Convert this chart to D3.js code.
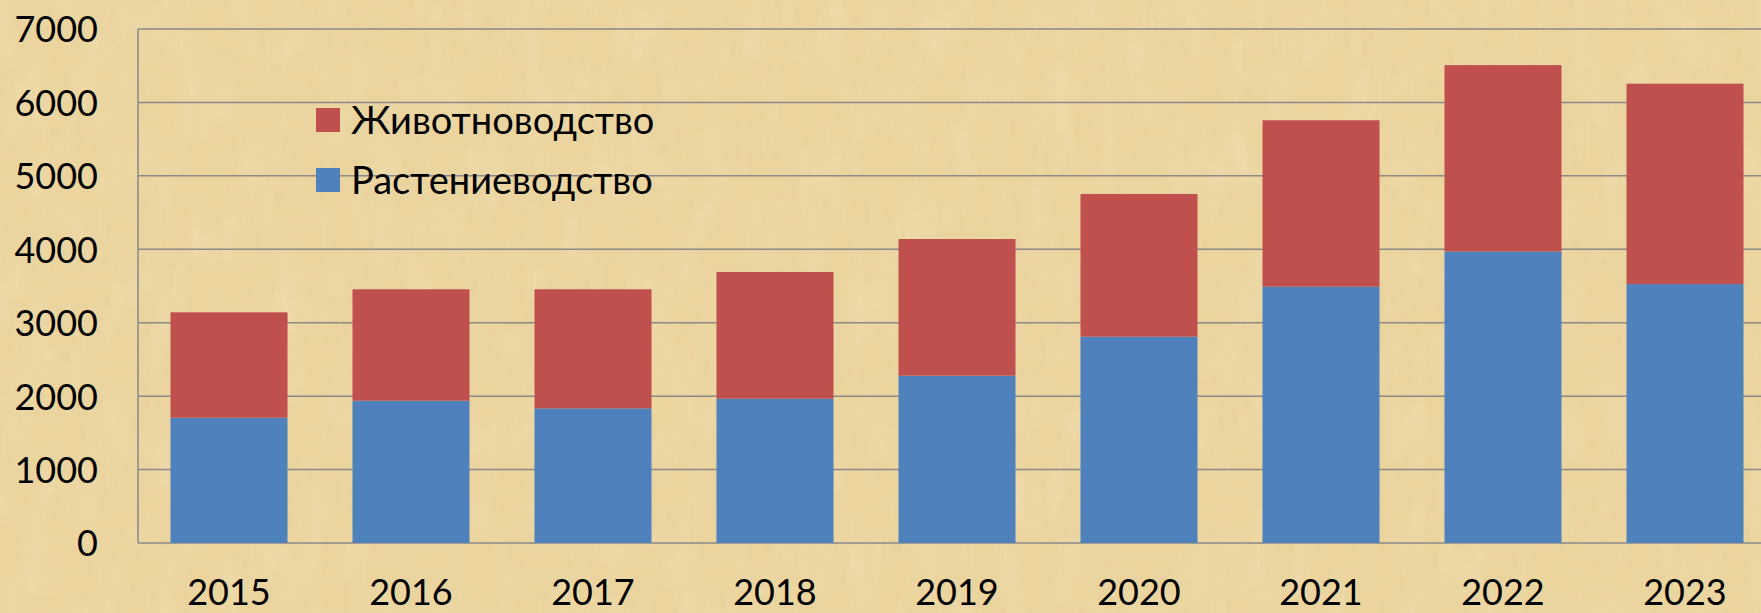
<!DOCTYPE html>
<html>
<head>
<meta charset="utf-8">
<script src="https://cdn.jsdelivr.net/npm/d3@7"></script>
<style>
  body { margin: 0; overflow: hidden; background: #ead39b; }
  .tick-label { font-family: Lato, "Open Sans", sans-serif; fill: #000; }
</style>
</head>
<body>
<div class="chart"></div>
<script>
// chart data
var years = ["2015", "2016", "2017", "2018", "2019", "2020", "2021", "2022", "2023"];
var plants = [1707, 1938, 1834, 1965, 2279, 2810, 3491, 3970, 3526];   // Растениеводство
var animals = [1435, 1517, 1621, 1726, 1861, 1943, 2266, 2538, 2729];  // Животноводство
var yTicks = [0, 1000, 2000, 3000, 4000, 5000, 6000, 7000];
var seriesNames = ["Растениеводство", "Животноводство"];
var seriesColors = ["#4f81bd", "#c0504d"];

var svgWidth = 1761;
var svgHeight = 613;
var margin = { top: 29, left: 138 };
var width = 9 * 182;     // runs past the right edge, as in the picture
var height = 514;

var svg = d3.select(".chart")
  .append("svg")
  .attr("width", svgWidth)
  .attr("height", svgHeight);

// papyrus-like background: fibres in two directions
var defs = svg.append("defs");
function fibre(id, freq, seed, rgb, alpha) {
  var f = defs.append("filter").attr("id", id)
    .attr("x", 0).attr("y", 0).attr("width", "100%").attr("height", "100%");
  f.append("feTurbulence").attr("type", "fractalNoise")
    .attr("baseFrequency", freq).attr("numOctaves", 3).attr("seed", seed);
  f.append("feColorMatrix").attr("type", "matrix")
    .attr("values", "0 0 0 0 " + rgb[0] + "  0 0 0 0 " + rgb[1] + "  0 0 0 0 " + rgb[2] + "  " + alpha);
}
fibre("fibV", "0.3 0.015", 3, [0.80, 0.66, 0.36], "3 0 0 0 -1.35");
fibre("fibH", "0.015 0.25", 7, [0.82, 0.68, 0.38], "3 0 0 0 -1.4");
fibre("fibL", "0.04 0.015", 11, [0.96, 0.88, 0.68], "2 0 0 0 -0.9");

svg.append("rect").attr("width", svgWidth).attr("height", svgHeight).attr("fill", "#ebd49e");
svg.append("rect").attr("width", svgWidth).attr("height", svgHeight)
  .attr("filter", "url(#fibL)").attr("opacity", 0.25);
svg.append("rect").attr("width", svgWidth).attr("height", svgHeight)
  .attr("filter", "url(#fibV)").attr("opacity", 0.4);
svg.append("rect").attr("width", svgWidth).attr("height", svgHeight)
  .attr("filter", "url(#fibH)").attr("opacity", 0.3);

var chart = svg.append("g")
  .attr("transform", "translate(" + margin.left + "," + margin.top + ")");

var xScale = d3.scaleBand().domain(years).range([0, width]).paddingInner(0.357).paddingOuter(0.1785);
var yScale = d3.scaleLinear().domain([0, 7000]).range([height, 0]);

// gridlines
chart.append("g")
  .selectAll("line")
  .data(yTicks)
  .enter()
  .append("line")
  .attr("x1", 0)
  .attr("x2", width)
  .attr("y1", function(d) { return yScale(d); })
  .attr("y2", function(d) { return yScale(d); })
  .attr("stroke", "#8a8a8a")
  .attr("stroke-width", 1.5);

// stacked bars
var rows = years.map(function(y, i) {
  return { year: y, plants: plants[i], animals: animals[i] };
});
var stacked = d3.stack().keys(["plants", "animals"])(rows);

chart.selectAll(".series")
  .data(stacked)
  .enter()
  .append("g")
  .attr("fill", function(d, i) { return seriesColors[i]; })
  .selectAll("rect")
  .data(function(d) { return d; })
  .enter()
  .append("rect")
  .attr("x", function(d) { return xScale(d.data.year); })
  .attr("width", xScale.bandwidth())
  .attr("y", function(d) { return yScale(d[1]); })
  .attr("height", function(d) { return yScale(d[0]) - yScale(d[1]); });

// left axis line
chart.append("line")
  .attr("x1", 0).attr("x2", 0)
  .attr("y1", 0).attr("y2", height)
  .attr("stroke", "#8a8a8a")
  .attr("stroke-width", 1.5);

// y axis labels
var leftAxis = d3.axisLeft(yScale).tickValues(yTicks).tickFormat(d3.format("d")).tickSize(0).tickPadding(40);
var yg = chart.append("g").call(leftAxis);
yg.select(".domain").remove();
yg.selectAll("text")
  .attr("class", "tick-label")
  .style("font-size", "36px")
  .attr("dy", "0.36em");

// x axis labels
var bottomAxis = d3.axisBottom(xScale).tickSize(0).tickPadding(0);
var xg = chart.append("g")
  .attr("transform", "translate(0," + height + ")")
  .call(bottomAxis);
xg.select(".domain").remove();
xg.selectAll("text")
  .attr("class", "tick-label")
  .style("font-size", "36px")
  .attr("y", 62)
  .attr("dy", 0);

// legend
var legendItems = [
  { name: seriesNames[1], color: seriesColors[1] },
  { name: seriesNames[0], color: seriesColors[0] }
];
var legend = svg.append("g").attr("transform", "translate(316,108)");
var item = legend.selectAll("g")
  .data(legendItems)
  .enter()
  .append("g")
  .attr("transform", function(d, i) { return "translate(0," + (i * 60) + ")"; });
item.append("rect")
  .attr("width", 24)
  .attr("height", 24)
  .attr("fill", function(d) { return d.color; });
item.append("text")
  .attr("class", "tick-label")
  .attr("x", 35)
  .attr("y", 12)
  .attr("dy", "0.36em")
  .style("font-size", "38px")
  .text(function(d) { return d.name; });
</script>
</body>
</html>
